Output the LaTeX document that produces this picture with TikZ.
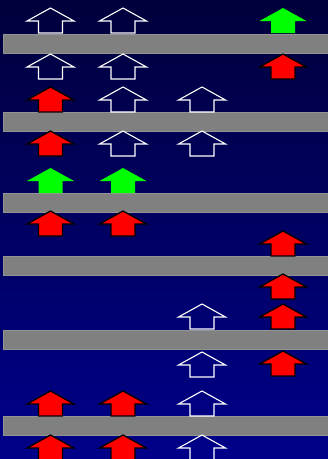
\documentclass[tikz,border=0pt]{standalone}
\usetikzlibrary{calc}
\definecolor{navytop}{HTML}{00003C}
\definecolor{navybot}{HTML}{00008A}
\definecolor{bargray}{HTML}{808080}
\definecolor{upgreen}{HTML}{00FF00}
\tikzset{
  bar/.style={fill=bargray, draw=bargray!85!white, line width=0.6pt},
  openarrow/.style={draw=white, line width=1.1pt, line join=miter},
  redarrow/.style={fill=red, draw=black, line width=1.3pt, line join=miter},
  greenarrow/.style={fill=upgreen, draw=none},
  uparr/.pic={\path[pic actions] (-12,0) -- (-12,-12) -- (-23.5,-12) -- (0,-25) -- (23.5,-12) -- (12,-12) -- (12,0) -- cycle;}
}

\begin{document}
\begin{tikzpicture}[x=1pt, y=-1pt]
  % background
  \useasboundingbox (0,0) rectangle (328,459);
  \shade[top color=navytop, bottom color=navybot] (0,0) rectangle (328,459);
  % gray bars
  \foreach \t in {34,112,193,256,330,416}
    \draw[bar] (3,\t) rectangle (332,\t+19.5);
  % open (white) arrows
  \foreach \x/\y in {50.5/33, 123/33, 50.5/79, 123/79, 123/112, 202/112,
                     123/156, 202/156, 202/329, 202/377, 202/416, 202/460}
    \pic[openarrow] at (\x,\y) {uparr};
  % red arrows
  \foreach \x/\y in {283/79, 50.5/112, 50.5/156, 50.5/236, 123/236, 283/256,
                     283/299, 283/329, 283/376, 50.5/416, 123/416, 50.5/460, 123/460}
    \pic[redarrow] at (\x,\y) {uparr};
  % green arrows
  \foreach \x/\y in {283/33, 50.5/193, 123/193}
    \pic[greenarrow] at (\x,\y) {uparr};
\end{tikzpicture}
\end{document}
